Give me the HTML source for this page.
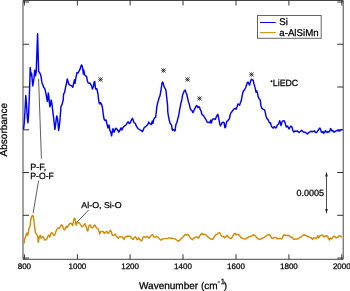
<!DOCTYPE html>
<html><head><meta charset="utf-8"><style>
html,body{margin:0;padding:0;background:#fff;}
body{width:350px;height:291px;overflow:hidden;}
svg{display:block;will-change:transform;text-rendering:geometricPrecision;font-family:"Liberation Sans",sans-serif;fill:#000;}
text{stroke:#000;stroke-width:0.25px;}
</style></head><body>
<svg width="350" height="291" viewBox="0 0 350 291">
<path d="M23.0,0.5H343.2V259.3H23.0Z" fill="none" stroke="#444" stroke-width="1"/>
<path d="M24.4,259.3V254.3M24.4,0.5V5.5M77.4,259.3V254.3M77.4,0.5V5.5M130.1,259.3V254.3M130.1,0.5V5.5M183.0,259.3V254.3M183.0,0.5V5.5M236.0,259.3V254.3M236.0,0.5V5.5M288.9,259.3V254.3M288.9,0.5V5.5M341.8,259.3V254.3M341.8,0.5V5.5M23.0,2.0H29.0M343.2,2.0H337.2M23.0,44.25H29.0M343.2,44.25H337.2M23.0,87.0H29.0M343.2,87.0H337.2M23.0,129.8H29.0M343.2,129.8H337.2M23.0,172.5H29.0M343.2,172.5H337.2M23.0,215.3H29.0M343.2,215.3H337.2M23.0,258.05H29.0M343.2,258.05H337.2" stroke="#333" stroke-width="1" fill="none"/>
<text x="24.4" y="268.9" font-size="8" text-anchor="middle">800</text>
<text x="77.4" y="268.9" font-size="8" text-anchor="middle">1000</text>
<text x="130.1" y="268.9" font-size="8" text-anchor="middle">1200</text>
<text x="183.0" y="268.9" font-size="8" text-anchor="middle">1400</text>
<text x="236.0" y="268.9" font-size="8" text-anchor="middle">1600</text>
<text x="288.9" y="268.9" font-size="8" text-anchor="middle">1800</text>
<text x="341.8" y="268.9" font-size="8" text-anchor="middle">2000</text>
<text x="139" y="288.9" font-size="10">Wavenumber (cm<tspan font-size="7.5" dy="-5.1">-<tspan dx="0.6">1</tspan></tspan><tspan dy="5.1" dx="-1.1">)</tspan></text>
<text transform="translate(7.4,129.7) rotate(-90)" font-size="10" text-anchor="middle">Absorbance</text>
<path d="M24.1,243.5 L24.9,238.2 L25.7,236.5 L26.4,234.1 L26.9,233.0 L27.6,235.3 L28.1,234.1 L28.8,229.5 L29.6,227.2 L30.2,225.4 L30.7,220.2 L31.6,216.7 L32.5,215.5 L33.3,216.1 L33.9,220.2 L34.6,227.2 L35.4,232.4 L36.2,233.6 L36.9,234.7 L37.7,236.5 L38.3,242.3 L38.9,238.8 L39.5,236.5 L40.4,235.3 L41.2,238.2 L42.0,237.1 L43.0,236.5 L43.9,238.2 L44.7,240.0 L46.0,239.8 L47.0,238.7 L47.9,236.2 L48.9,235.1 L49.9,237.2 L50.9,233.1 L52.0,232.6 L53.0,234.1 L54.0,235.6 L55.1,234.1 L56.1,231.0 L57.1,229.0 L58.2,227.9 L59.2,228.4 L60.2,226.9 L61.3,224.8 L62.3,225.3 L63.3,228.4 L64.4,230.0 L65.4,228.4 L66.4,226.4 L67.4,227.4 L68.5,225.3 L69.7,223.6 L70.7,223.2 L71.7,223.9 L72.6,225.6 L73.4,222.2 L74.1,218.7 L74.7,218.3 L75.3,220.0 L75.8,223.9 L76.4,225.2 L77.0,222.5 L77.8,222.3 L78.5,222.7 L79.3,223.1 L80.0,223.8 L81.0,225.3 L81.9,226.8 L83.1,226.1 L84.2,224.6 L85.0,223.8 L85.7,225.3 L86.5,227.6 L87.2,230.3 L87.8,231.0 L88.4,228.4 L89.0,226.1 L89.7,225.0 L90.5,225.3 L91.2,227.2 L92.1,228.0 L92.9,227.2 L93.8,226.1 L94.8,225.0 L95.5,226.1 L96.3,227.6 L97.1,228.0 L97.8,228.7 L98.8,230.3 L99.7,234.1 L100.3,232.6 L101.0,231.4 L102.2,231.4 L103.3,231.8 L104.4,233.3 L105.6,232.2 L106.7,231.4 L107.8,233.0 L108.6,233.3 L109.3,231.8 L110.5,230.3 L111.5,231.8 L112.0,234.5 L112.7,235.6 L113.9,235.2 L114.8,234.5 L115.5,234.1 L116.1,236.0 L116.9,236.7 L117.8,237.5 L118.4,238.3 L119.2,237.1 L120.1,236.7 L121.1,236.7 L122.0,236.7 L123.1,238.2 L124.1,239.4 L125.0,237.1 L126.2,236.7 L127.3,236.0 L128.4,236.3 L129.6,236.2 L130.5,236.3 L131.4,238.2 L132.4,239.0 L133.3,239.4 L134.2,237.5 L135.2,236.7 L136.2,237.8 L137.0,239.7 L137.9,239.0 L138.8,237.8 L139.5,239.4 L140.5,240.1 L141.5,240.9 L142.3,239.7 L143.0,237.1 L143.9,236.7 L145.1,237.5 L146.0,236.7 L146.9,236.3 L148.0,237.1 L149.0,238.2 L150.2,236.3 L151.7,235.2 L152.8,234.7 L153.9,237.1 L155.1,237.1 L156.6,236.3 L157.7,237.1 L159.2,238.6 L160.4,239.7 L161.5,240.1 L162.6,239.0 L164.1,238.6 L165.7,238.6 L167.5,238.5 L169.0,237.9 L170.6,238.2 L172.0,238.3 L173.8,238.6 L175.0,239.0 L176.0,239.7 L177.5,240.6 L178.7,241.3 L180.0,240.0 L181.3,238.6 L182.5,237.4 L183.6,236.3 L185.1,234.4 L186.3,235.2 L187.2,234.8 L188.1,234.4 L189.0,235.8 L189.8,237.1 L191.0,238.5 L192.3,239.7 L193.2,238.6 L195.5,237.1 L197.0,236.7 L198.5,238.2 L199.7,236.0 L200.8,234.4 L201.9,233.3 L203.1,234.8 L204.2,234.4 L205.3,234.4 L206.5,235.6 L207.6,236.7 L209.1,237.8 L210.6,239.0 L212.1,239.4 L213.3,238.6 L214.3,236.7 L215.5,235.2 L217.1,234.1 L218.6,232.9 L219.7,232.6 L220.3,234.1 L221.4,236.0 L222.5,236.7 L223.4,236.3 L224.7,237.8 L225.6,237.1 L227.1,235.2 L228.2,236.7 L229.3,237.8 L230.5,238.6 L231.6,238.2 L232.7,236.3 L233.9,234.1 L235.0,233.3 L236.1,234.8 L237.3,234.4 L238.4,234.4 L239.5,235.6 L240.7,237.1 L241.8,238.2 L243.5,238.6 L245.0,239.0 L246.2,238.6 L247.3,237.8 L248.4,237.1 L249.6,236.7 L251.1,236.3 L252.2,235.6 L253.3,234.8 L254.5,235.2 L255.6,236.3 L256.7,237.5 L257.9,238.6 L259.2,239.5 L260.5,239.0 L261.7,238.5 L263.2,237.8 L264.7,237.1 L267.1,235.2 L268.3,234.7 L269.8,234.8 L270.9,236.7 L272.0,238.2 L273.2,238.6 L274.3,237.5 L275.4,237.5 L276.6,237.8 L277.7,239.0 L278.8,238.6 L280.0,238.2 L280.7,238.6 L281.9,239.0 L283.0,236.3 L284.1,234.8 L285.3,235.2 L286.4,235.6 L287.9,235.2 L289.1,235.6 L291.1,237.5 L292.3,237.1 L293.4,239.0 L294.5,239.2 L296.0,239.0 L297.6,239.0 L298.7,238.6 L299.8,237.1 L301.3,237.1 L302.5,235.6 L303.6,234.8 L305.1,235.2 L306.6,236.0 L308.1,236.3 L309.3,237.1 L310.4,237.5 L311.5,238.2 L312.5,239.4 L313.4,237.8 L315.0,237.9 L316.1,238.7 L317.0,237.4 L317.9,235.7 L318.7,237.9 L319.8,236.1 L320.9,235.3 L321.9,234.9 L323.0,235.7 L324.1,237.0 L325.1,236.1 L326.4,235.7 L327.5,236.1 L328.6,238.7 L329.3,240.0 L330.3,237.9 L331.6,239.1 L332.9,237.0 L334.1,236.1 L335.3,237.0 L336.3,237.9 L337.6,237.4 L338.9,236.1 L339.7,235.7 L341.0,236.6 L341.8,237.4" fill="none" stroke="#d48a08" stroke-width="1.45" stroke-linejoin="round"/>
<path d="M23.6,129.3 L24.2,123.5 L24.9,112.6 L25.4,103.0 L25.8,95.5 L26.5,103.5 L27.4,118.9 L28.0,122.8 L28.7,112.7 L29.3,97.3 L29.9,80.0 L30.2,67.5 L31.0,75.7 L31.6,73.3 L32.8,85.9 L34.0,78.0 L34.7,70.2 L35.5,75.7 L36.2,72.0 L37.6,33.8 L38.6,71.6 L39.6,72.6 L40.6,74.7 L41.2,77.3 L41.7,81.4 L42.4,84.0 L42.9,84.9 L43.8,87.6 L44.7,88.5 L45.4,91.1 L46.0,93.8 L46.6,97.4 L47.4,101.4 L47.8,98.3 L48.3,92.9 L48.7,95.6 L49.3,101.9 L49.9,106.8 L50.5,104.6 L51.1,100.1 L51.7,101.9 L52.3,107.2 L53.3,115.3 L54.2,123.0 L54.9,129.4 L55.5,125.5 L56.3,118.7 L56.8,115.9 L57.5,118.7 L58.1,124.0 L58.6,130.4 L59.2,127.0 L59.9,121.0 L60.5,113.0 L61.0,106.6 L62.1,104.4 L63.2,100.0 L63.6,94.0 L64.5,92.7 L65.1,89.7 L65.8,86.3 L66.5,83.1 L67.3,78.9 L68.0,81.4 L68.7,84.0 L69.8,85.1 L70.9,85.5 L72.0,86.2 L72.8,87.3 L73.7,83.1 L74.4,79.8 L75.0,83.3 L75.7,79.2 L76.4,75.4 L77.0,72.6 L77.9,73.0 L78.6,71.9 L79.4,70.4 L80.3,68.6 L80.8,66.6 L81.6,64.9 L82.3,66.6 L82.8,69.3 L83.4,74.1 L83.8,69.9 L84.2,72.6 L84.9,75.2 L85.8,75.9 L86.7,77.0 L87.4,80.9 L88.2,82.9 L89.1,83.3 L90.0,83.1 L90.7,84.7 L91.5,85.3 L92.4,89.1 L93.3,86.9 L94.0,82.5 L94.7,81.4 L95.4,87.7 L96.0,89.2 L96.8,88.7 L97.3,90.6 L98.0,94.5 L98.6,99.3 L99.2,103.1 L99.9,104.0 L100.5,102.6 L101.2,103.6 L101.8,105.0 L102.6,108.5 L103.4,115.5 L104.2,119.5 L105.1,120.5 L106.1,120.0 L107.2,125.0 L107.9,127.9 L109.0,125.0 L109.8,130.1 L110.8,132.2 L111.6,135.8 L112.3,131.5 L113.0,128.6 L114.0,132.2 L114.9,130.1 L115.9,128.2 L117.0,129.3 L118.1,130.8 L118.8,132.2 L119.9,130.1 L121.0,127.9 L121.7,130.1 L122.8,127.9 L123.8,126.5 L124.9,125.7 L126.0,125.0 L127.2,122.8 L128.2,121.8 L129.2,123.6 L130.0,123.3 L131.2,120.6 L132.4,118.2 L133.4,120.6 L134.0,122.5 L135.3,123.5 L136.3,125.9 L137.2,127.3 L138.2,128.8 L139.1,129.2 L140.4,130.2 L141.5,130.7 L142.5,131.6 L143.5,129.2 L144.4,127.3 L145.4,126.8 L146.3,125.9 L147.8,124.4 L148.7,122.1 L150.2,123.9 L151.4,124.5 L152.3,120.9 L153.0,123.3 L153.8,119.1 L154.7,117.9 L155.6,117.3 L156.2,113.0 L156.8,107.0 L157.8,102.2 L158.3,100.8 L159.1,97.7 L159.9,96.1 L160.7,92.0 L161.4,87.4 L162.0,83.2 L162.5,82.0 L163.2,83.2 L164.1,86.9 L164.8,87.9 L165.5,88.9 L166.1,91.5 L166.5,95.6 L167.2,101.8 L167.6,105.5 L167.8,112.0 L168.5,116.5 L169.3,120.3 L170.1,123.4 L170.8,124.1 L171.6,125.3 L172.0,128.3 L172.5,130.2 L173.1,129.4 L173.7,129.8 L174.6,130.9 L175.2,130.6 L175.5,127.2 L176.0,124.1 L176.5,123.4 L177.0,122.2 L177.6,119.6 L178.4,116.5 L178.6,116.0 L179.7,109.3 L180.8,103.8 L181.9,99.4 L182.6,95.0 L183.5,92.8 L184.4,90.6 L185.2,90.1 L185.9,92.3 L186.8,94.5 L187.7,98.3 L188.5,102.2 L189.2,103.8 L190.1,108.2 L191.0,109.9 L191.8,110.4 L192.9,112.6 L194.0,110.4 L194.7,108.8 L195.6,107.1 L196.5,105.5 L197.3,106.0 L198.0,107.7 L198.9,106.6 L199.8,107.7 L200.0,109.2 L200.9,110.6 L201.9,114.3 L202.8,115.2 L203.7,115.7 L204.5,117.5 L205.4,118.5 L206.3,120.3 L207.2,122.2 L208.2,122.6 L209.1,122.2 L210.0,122.6 L210.7,120.3 L211.3,123.1 L212.2,119.8 L213.2,118.9 L214.4,118.9 L215.3,119.4 L216.2,117.1 L217.2,115.2 L217.8,114.3 L218.4,116.6 L219.0,119.8 L219.7,123.6 L220.4,125.9 L221.2,124.5 L222.1,122.6 L223.2,122.2 L224.1,122.6 L224.9,127.7 L225.5,127.3 L226.2,123.6 L226.9,121.2 L227.8,120.8 L228.6,119.8 L229.5,118.5 L230.1,115.2 L230.8,112.9 L231.7,112.0 L232.7,110.4 L234.0,109.0 L235.1,108.3 L236.1,109.3 L237.1,106.7 L237.9,103.9 L238.9,104.7 L239.6,105.2 L240.4,102.6 L241.3,100.6 L242.0,96.4 L242.7,93.3 L243.5,90.8 L244.6,89.7 L245.6,87.7 L246.4,85.6 L247.1,83.0 L247.8,82.2 L247.9,82.0 L248.8,83.7 L249.6,85.1 L250.3,82.2 L251.0,80.1 L251.7,79.3 L252.5,80.1 L253.2,80.1 L253.9,83.7 L254.6,85.8 L255.3,88.7 L256.1,92.3 L256.8,90.9 L257.5,93.1 L258.2,96.9 L259.1,98.6 L260.2,100.1 L261.0,105.9 L261.9,108.3 L263.4,109.3 L264.6,109.8 L265.3,112.7 L266.0,116.0 L266.9,118.4 L267.9,119.4 L268.8,121.3 L269.6,122.8 L270.4,122.8 L271.1,125.2 L271.7,126.6 L272.5,127.6 L273.3,128.0 L274.2,126.6 L275.2,127.1 L275.9,128.0 L276.5,127.1 L277.3,125.2 L278.3,124.2 L279.0,122.8 L279.7,120.8 L280.4,123.2 L281.0,125.6 L281.6,123.2 L282.3,121.3 L283.3,120.8 L284.2,120.8 L285.0,122.3 L285.8,125.6 L286.4,127.1 L287.4,126.1 L288.4,127.6 L289.0,129.0 L289.8,127.6 L290.8,126.1 L291.7,126.6 L292.1,127.6 L293.0,130.8 L293.9,132.2 L294.9,130.8 L296.0,131.5 L297.0,130.8 L297.9,131.7 L299.0,132.4 L300.3,131.5 L301.7,130.3 L302.6,131.3 L303.7,132.2 L304.9,132.2 L306.1,132.8 L307.4,134.0 L308.6,132.6 L309.9,131.9 L311.0,131.3 L312.2,131.7 L313.4,131.3 L314.5,130.8 L315.4,132.6 L316.0,132.6 L317.0,132.0 L318.1,130.3 L319.3,128.6 L319.9,128.1 L320.5,129.4 L321.3,132.0 L322.2,132.4 L323.0,131.6 L323.7,133.3 L324.6,132.0 L325.6,130.7 L326.3,132.0 L327.1,132.4 L328.0,131.6 L328.9,132.0 L329.9,130.7 L330.6,128.6 L331.3,129.4 L332.1,131.1 L333.0,130.7 L333.8,132.0 L334.7,132.0 L335.5,131.1 L336.6,130.7 L337.4,130.3 L338.5,130.7 L339.3,131.1 L340.2,130.3 L341.3,129.9 L342.4,129.4" fill="none" stroke="#0000ff" stroke-width="1.45" stroke-linejoin="round"/>
<path d="M38.6,78.7L41.4,158.7M38.6,180.6L33.1,213.3M76.9,222.3L88.8,209.8" stroke="#333" stroke-width="0.8" fill="none"/>
<text x="30.3" y="169.5" font-size="9">P-F,</text>
<text x="30.3" y="178.9" font-size="9" textLength="23.6" lengthAdjust="spacingAndGlyphs">P-O-F</text>
<text x="81.3" y="207.5" font-size="8.5" textLength="40.4" lengthAdjust="spacingAndGlyphs">Al-O, Si-O</text>
<circle cx="271.5" cy="81.2" r="0.95" fill="#000"/><text x="272.8" y="85.9" font-size="9" textLength="25.4" lengthAdjust="spacingAndGlyphs">LiEDC</text>
<text x="296.5" y="195.9" font-size="9">0.0005</text>
<path d="M326.5,174V212" stroke="#222" stroke-width="0.8"/>
<path d="M326.5,171.5L325.2,176.5H327.8Z M326.5,214L325.2,209H327.8Z" fill="#222"/>
<path d="M97.9,79.5H103.1M100.5,76.9V82.1" stroke="#000" stroke-width="0.4" fill="none"/><path d="M98.5,77.5L102.5,81.5M98.5,81.5L102.5,77.5" stroke="#000" stroke-width="0.75" fill="none"/>
<path d="M160.9,70.5H166.1M163.5,67.9V73.1" stroke="#000" stroke-width="0.4" fill="none"/><path d="M161.5,68.5L165.5,72.5M161.5,72.5L165.5,68.5" stroke="#000" stroke-width="0.75" fill="none"/>
<path d="M184.9,79.5H190.1M187.5,76.9V82.1" stroke="#000" stroke-width="0.4" fill="none"/><path d="M185.5,77.5L189.5,81.5M185.5,81.5L189.5,77.5" stroke="#000" stroke-width="0.75" fill="none"/>
<path d="M196.9,98.5H202.1M199.5,95.9V101.1" stroke="#000" stroke-width="0.4" fill="none"/><path d="M197.5,96.5L201.5,100.5M197.5,100.5L201.5,96.5" stroke="#000" stroke-width="0.75" fill="none"/>
<path d="M248.9,74.5H254.1M251.5,71.9V77.1" stroke="#000" stroke-width="0.4" fill="none"/><path d="M249.5,72.5L253.5,76.5M249.5,76.5L253.5,72.5" stroke="#000" stroke-width="0.75" fill="none"/>
<rect x="257.5" y="15.5" width="63.7" height="22.8" fill="#fff" stroke="#666" stroke-width="1"/>
<path d="M260,22.5H275.8" stroke="#0000ff" stroke-width="1"/>
<path d="M260,32.6H275.8" stroke="#d48a08" stroke-width="1"/>
<text x="279.3" y="25.1" font-size="9.7">Si</text>
<text x="279.3" y="35.9" font-size="9.7">a-AlSiMn</text>
</svg>
</body></html>
